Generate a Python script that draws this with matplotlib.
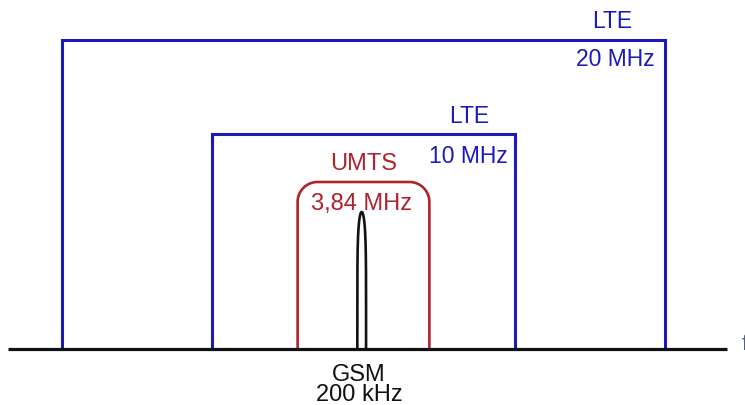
import numpy as np
import matplotlib
matplotlib.use("Agg")
import matplotlib.pyplot as plt

# ---- data ----
systems = ["GSM", "UMTS", "LTE", "LTE"]
bw_labels = ["200 kHz", "3,84 MHz", "10 MHz", "20 MHz"]
band_center = [-0.06, 0.0, 0.0, 0.0]        # MHz (relative)
band_width = [0.29, 4.37, 10.05, 20.0]       # drawn width, MHz
band_level = [137, 167, 215, 309]            # drawn height (arbitrary units)
colors = ["#111111", "#b0222c", "#1a1ab8", "#1a1ab8"]

plt.rcParams["font.family"] = ["Liberation Sans", "DejaVu Sans"]

fig = plt.figure(figsize=(7.45, 4.06), dpi=100)
ax = fig.add_axes([0, 0, 1, 1])
ax.set_xlim(-12.056, 12.653)
ax.set_ylim(-56, 350)
ax.axis("off")

# baseline (frequency axis)
ax.plot([-11.79, 12.06], [0, 0], color="#111111", lw=2.3, solid_capstyle="butt", zorder=5)
ax.text(12.55, 5, "f", fontsize=16, color="#556077", ha="left", va="center")

# LTE rectangles
for i in (2, 3):
    c, w, h = band_center[i], band_width[i], band_level[i]
    ax.plot([c - w / 2, c - w / 2, c + w / 2, c + w / 2], [0, h, h, 0],
            color=colors[i], lw=2.2, solid_joinstyle="miter", zorder=3)

# UMTS rounded shape
c, w, h = band_center[1], band_width[1], band_level[1]
rx, ry = 0.66, 20
t = np.linspace(0, np.pi / 2, 40)
left_arc_x = (c - w / 2 + rx) - rx * np.cos(t)
left_arc_y = (h - ry) + ry * np.sin(t)
right_arc_x = (c + w / 2 - rx) + rx * np.sin(t)
right_arc_y = (h - ry) + ry * np.cos(t)
xs = np.concatenate([[c - w / 2], left_arc_x, right_arc_x, [c + w / 2]])
ys = np.concatenate([[0], left_arc_y, right_arc_y, [0]])
ax.plot(xs, ys, color=colors[1], lw=1.9, zorder=3)

# GSM narrow peak
c, w, h = band_center[0], band_width[0], band_level[0]
yy = np.linspace(0, h, 400)
half = (w / 2) * (1 - (yy / h) ** 6) ** 0.5
ax.plot(np.concatenate([c - half, (c + half)[::-1]]),
        np.concatenate([yy, yy[::-1]]), color=colors[0], lw=1.9, zorder=4)

# labels
ax.text(8.24, 328, systems[3], fontsize=16.5, color=colors[3], ha="center", va="center")
ax.text(8.34, 290, bw_labels[3], fontsize=16.5, color=colors[3], ha="center", va="center")
ax.text(3.5, 233.5, systems[2], fontsize=16.5, color=colors[2], ha="center", va="center")
ax.text(3.47, 193, bw_labels[2], fontsize=16.5, color=colors[2], ha="center", va="center")
ax.text(0.02, 185.5, systems[1], fontsize=17, color=colors[1], ha="center", va="center")
ax.text(-0.05, 146, bw_labels[1], fontsize=17, color=colors[1], ha="center", va="center")
ax.text(-0.17, -25, systems[0], fontsize=17, color="#111111", ha="center", va="center")
ax.text(-0.14, -45.5, bw_labels[0], fontsize=17, color="#111111", ha="center", va="center")

fig.savefig("out.png", dpi=100)
